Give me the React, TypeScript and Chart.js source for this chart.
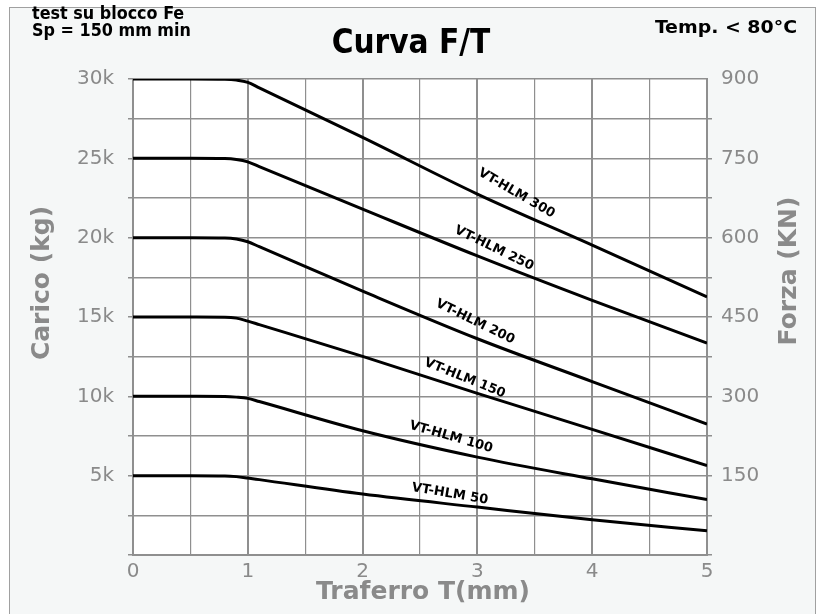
import React, { useEffect, useRef } from "react";
import { Chart, registerables } from "chart.js";

Chart.register(...registerables);

// ---- data ----
const traferro = [0, 0.5, 0.8, 0.9, 1, 1.1, 2, 3, 4, 5];
const hlm300 = [30000, 30000, 29980, 29930, 29790, 29440, 26320, 22750, 19530, 16260];
const hlm250 = [25000, 25000, 24985, 24930, 24780, 24480, 21800, 18850, 16050, 13360];
const hlm200 = [20000, 20000, 19985, 19920, 19740, 19430, 16630, 13630, 10930, 8250];
const hlm150 = [15000, 15000, 14990, 14930, 14740, 14520, 12520, 10190, 7920, 5630];
const hlm100 = [10000, 10000, 9990, 9950, 9870, 9670, 7830, 6170, 4800, 3490];
const hlm50 = [5000, 5000, 4985, 4940, 4850, 4750, 3840, 3020, 2220, 1530];
const seriesNames = ["VT-HLM 300", "VT-HLM 250", "VT-HLM 200", "VT-HLM 150", "VT-HLM 100", "VT-HLM 50"];
const seriesValues = [hlm300, hlm250, hlm200, hlm150, hlm100, hlm50];

const title = "Curva F/T";
const noteLeft1 = "test su blocco Fe";
const noteLeft2 = "Sp = 150 mm min";
const noteRight = "Temp. < 80°C";
const xTitle = "Traferro T(mm)";
const yTitle = "Carico (kg)";
const y2Title = "Forza (KN)";

// label placement along each curve (x position, offset above curve in px, angle in deg)
const labelPlacement = [
  { t: 3.34, off: 18, angle: 30 },
  { t: 3.145, off: 14, angle: 26 },
  { t: 2.98, off: 16, angle: 26 },
  { t: 2.89, off: 11, angle: 22 },
  { t: 2.77, off: 14, angle: 16 },
  { t: 2.76, off: 10, angle: 9.5 },
];

const GRID = "#8f8f8f";
const TICK = "#8a8a8a";
const FONT = "'DejaVu Sans', Verdana, sans-serif";
const CFONT = "'DejaVu Sans Condensed', 'DejaVu Sans', sans-serif";

function interp(xs: number[], ys: number[], t: number) {
  for (let i = 0; i < xs.length - 1; i++) {
    if (t >= xs[i] && t <= xs[i + 1]) {
      const f = (t - xs[i]) / (xs[i + 1] - xs[i]);
      return ys[i] + f * (ys[i + 1] - ys[i]);
    }
  }
  return ys[ys.length - 1];
}

const decorPlugin = {
  id: "decor",
  beforeDraw(chart: any) {
    const { ctx, chartArea } = chart;
    ctx.save();
    ctx.fillStyle = "#ffffff";
    ctx.fillRect(chartArea.left, chartArea.top, chartArea.right - chartArea.left, chartArea.bottom - chartArea.top);
    ctx.restore();
  },
  afterDraw(chart: any) {
    const { ctx } = chart;
    const xs = chart.scales.x;
    const ys = chart.scales.y;
    ctx.save();
    // curve labels
    ctx.fillStyle = "#000";
    ctx.font = `bold 13px ${FONT}`;
    ctx.textAlign = "center";
    ctx.textBaseline = "middle";
    labelPlacement.forEach((p, i) => {
      const v = interp(traferro, seriesValues[i], p.t);
      const px = xs.getPixelForValue(p.t);
      const py = ys.getPixelForValue(v) - p.off;
      ctx.save();
      ctx.translate(px, py);
      ctx.rotate((p.angle * Math.PI) / 180);
      ctx.fillText(seriesNames[i], 0, 0);
      ctx.restore();
    });

    // header texts
    ctx.fillStyle = "#000";
    ctx.textBaseline = "middle";
    ctx.textAlign = "left";
    ctx.font = `bold 17.8px ${CFONT}`;
    ctx.fillText(noteLeft1, 32, 14);
    ctx.fillText(noteLeft2, 32, 31);
    // right note, fitted to reference width
    ctx.font = `bold 17.5px ${CFONT}`;
    const w = ctx.measureText(noteRight).width;
    ctx.save();
    ctx.translate(797, 28);
    ctx.scale(142 / w, 1);
    ctx.textAlign = "right";
    ctx.fillText(noteRight, 0, 0);
    ctx.restore();
    ctx.textAlign = "center";
    ctx.font = `bold 33px ${CFONT}`;
    ctx.fillText(title, 411, 44);

    // axis titles
    ctx.fillStyle = TICK;
    ctx.font = `bold 25px ${FONT}`;
    ctx.fillText(xTitle, 423, 592);
    ctx.save();
    ctx.translate(42, 283);
    ctx.rotate(-Math.PI / 2);
    ctx.fillText(yTitle, 0, 0);
    ctx.restore();
    ctx.save();
    ctx.translate(789, 271);
    ctx.rotate(-Math.PI / 2);
    ctx.fillText(y2Title, 0, 0);
    ctx.restore();
    ctx.restore();
  },
};

export default function App() {
  const ref = useRef<HTMLCanvasElement>(null);
  useEffect(() => {
    if (!ref.current) return;
    const chart = new Chart(ref.current, {
      type: "line",
      data: {
        datasets: seriesValues.map((vals, i) => ({
          label: seriesNames[i],
          data: traferro.map((t, j) => ({ x: t, y: vals[j] })),
          borderColor: "#000",
          borderWidth: 3,
          pointRadius: 0,
          fill: false,
          cubicInterpolationMode: "monotone" as const,
          yAxisID: "y",
        })),
      },
      options: {
        animation: false,
        responsive: false,
        devicePixelRatio: 1,
        layout: { padding: { top: 79, left: 0, right: 0, bottom: 0 } },
        plugins: { legend: { display: false }, tooltip: { enabled: false }, title: { display: false } },
        scales: {
          x: {
            type: "linear",
            min: 0,
            max: 5,
            afterFit: (s: any) => { s.height = 59; },
            border: { color: GRID, width: 2 },
            grid: {
              color: GRID,
              drawTicks: false,
              lineWidth: (c: any) => (Number.isInteger(c.tick?.value) ? 2 : 1.2),
            },
            ticks: {
              stepSize: 0.5,
              autoSkip: false,
              maxRotation: 0,
              padding: 5,
              color: TICK,
              font: { family: FONT, size: 20 },
              callback: (v: any) => (Number.isInteger(v) ? String(v) : ""),
            },
          },
          y: {
            type: "linear",
            position: "left",
            min: 0,
            max: 30000,
            afterFit: (s: any) => { s.width = 133; },
            border: { color: GRID, width: 2 },
            grid: { color: GRID, lineWidth: 1.5, tickLength: 5 },
            ticks: {
              stepSize: 2500,
              autoSkip: false,
              padding: 14,
              color: TICK,
              font: { family: FONT, size: 20 },
              callback: (v: any) => (v > 0 && v % 5000 === 0 ? v / 1000 + "k" : ""),
            },
          },
          y2: {
            type: "linear",
            position: "right",
            min: 0,
            max: 900,
            afterFit: (s: any) => { s.width = 114; },
            border: { color: GRID, width: 2 },
            grid: {
              color: GRID,
              lineWidth: 1.5,
              tickLength: 5,
              drawOnChartArea: false,
              tickColor: (c: any) => (c.tick?.value === 900 ? "rgba(0,0,0,0)" : GRID),
            },
            ticks: {
              stepSize: 75,
              autoSkip: false,
              padding: 9,
              color: TICK,
              font: { family: FONT, size: 20 },
              callback: (v: any) => (v > 0 && v % 150 === 0 ? String(v) : ""),
            },
          },
        },
      },
      plugins: [decorPlugin],
    });
    return () => chart.destroy();
  }, []);

  return (
    <>
      <div
        style={{
          position: "absolute",
          left: 9,
          top: 7,
          width: 807,
          height: 607,
          boxSizing: "border-box",
          borderLeft: "1px solid #a0a0a0",
          borderTop: "1px solid #a0a0a0",
          borderRight: "1px solid #a0a0a0",
          background: "#f5f7f7",
        }}
      />
      <canvas
        ref={ref}
        width={821}
        height={614}
        style={{ position: "absolute", left: 0, top: 0, width: 821, height: 614 }}
      />
    </>
  );
}
